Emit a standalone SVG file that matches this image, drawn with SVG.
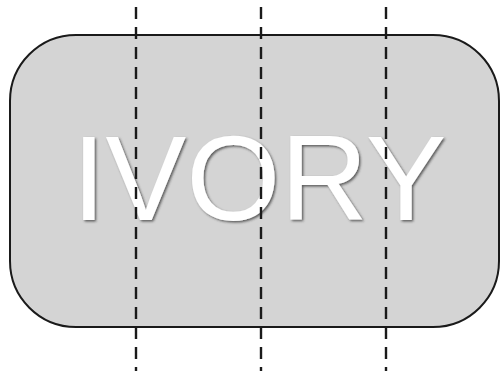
<svg xmlns="http://www.w3.org/2000/svg" width="501" height="371" viewBox="0 0 501 371">
  <defs>
    <filter id="shadow" x="-10%" y="-10%" width="120%" height="130%">
      <feDropShadow dx="1.5" dy="1.5" stdDeviation="0.8" flood-color="#333" flood-opacity="0.75"/>
    </filter>
  </defs>
  <style>
    .box { fill: #d4d4d4; stroke: #1a1a1a; stroke-width: 2; }
    .label { font-family: "Liberation Sans", Arial, sans-serif; font-size: 121px; fill: #ffffff; }
    .guide { stroke: #1a1a1a; stroke-width: 2.4; stroke-dasharray: 12 8; fill: none; }
  </style>
  <g id="ivory">
    <rect class="box" x="10" y="35" width="489" height="292" rx="66" ry="66"/>
    <text class="label" x="72" y="220" filter="url(#shadow)">IVORY</text>
  </g>
  <g id="connectors">
    <line class="guide" x1="136" y1="7" x2="136" y2="371"/>
    <line class="guide" x1="261" y1="7" x2="261" y2="371"/>
    <line class="guide" x1="386" y1="7" x2="386" y2="371"/>
  </g>
</svg>
